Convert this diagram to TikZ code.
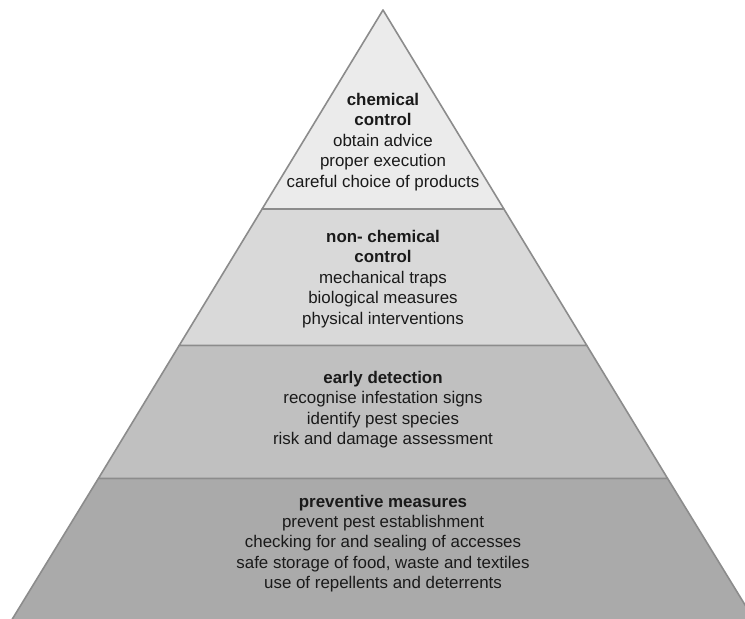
\documentclass[tikz,border=0pt]{standalone}
\usepackage{fontspec}
\setmainfont{Liberation Sans}
\definecolor{lay1}{HTML}{EBEBEB}
\definecolor{lay2}{HTML}{D9D9D9}
\definecolor{lay3}{HTML}{C0C0C0}
\definecolor{lay4}{HTML}{AAAAAA}
\definecolor{edge}{HTML}{8C8C8C}
\definecolor{txt}{HTML}{1A1A1A}
\tikzset{
  layer/.style={draw=edge, line width=1.6pt, line join=round},
  label/.style={align=center, text=txt, font=\fontsize{16.9}{20.4}\selectfont, inner sep=0pt}
}
\begin{document}
\begin{tikzpicture}[x=1pt,y=-1pt]
\useasboundingbox (0,0) rectangle (745,619);
\fill[white] (0,0) rectangle (745,619);
\begin{scope}
\clip (0,0) rectangle (745,619);
\coordinate (apex) at (383,10);
\coordinate (l1) at (262.1,209); \coordinate (r1) at (503.9,209);
\coordinate (l2) at (179.3,345.3); \coordinate (r2) at (586.7,345.3);
\coordinate (l3) at (98.5,478.3); \coordinate (r3) at (667.5,478.3);
\coordinate (l4) at (5,631); \coordinate (r4) at (761,631);
\filldraw[layer, fill=lay4] (l3) -- (r3) -- (r4) -- (l4) -- cycle;
\filldraw[layer, fill=lay3] (l2) -- (r2) -- (r3) -- (l3) -- cycle;
\filldraw[layer, fill=lay2] (l1) -- (r1) -- (r2) -- (l2) -- cycle;
\filldraw[layer, fill=lay1] (apex) -- (r1) -- (l1) -- cycle;
\end{scope}
\node[label] (t1) at (383,142) {\textbf{chemical}\\\textbf{control}\\obtain advice\\proper execution\\careful choice of products};
\node[label] (t2) at (383,279) {\textbf{non- chemical}\\\textbf{control}\\mechanical traps\\biological measures\\physical interventions};
\node[label] (t3) at (383,409.5) {\textbf{early detection}\\recognise infestation signs\\identify pest species\\risk and damage assessment};
\node[label] (t4) at (383,543.5) {\textbf{preventive measures}\\prevent pest establishment\\checking for and sealing of accesses\\safe storage of food, waste and textiles\\use of repellents and deterrents};
\end{tikzpicture}
\end{document}
